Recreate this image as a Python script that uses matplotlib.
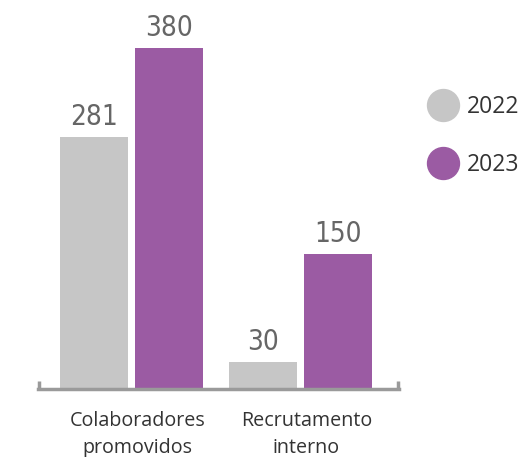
import matplotlib.pyplot as plt
import matplotlib.transforms as mtransforms
from matplotlib.lines import Line2D
import numpy as np

# ====================================================================
# data
# ====================================================================
categories = ['Colaboradores\npromovidos', 'Recrutamento\ninterno']
years = ['2022', '2023']
values_2022 = [281, 30]
values_2023 = [380, 150]

colors = ['#c6c6c6', '#9b5ba3']

# ====================================================================
# plot
# ====================================================================
fig = plt.figure(figsize=(5.28, 4.57), dpi=100)
ax = fig.add_axes([0.072, 0.1488, 0.6837, 0.785])

x = np.arange(len(categories))
w = 0.402
off = 0.222

bars1 = ax.bar(x - off, values_2022, w, color=colors[0])
bars2 = ax.bar(x + off, values_2023, w, color=colors[1])

num_font = dict(family='DejaVu Sans', stretch='condensed', fontsize=20, color='#666666')
for bars in (bars1, bars2):
    for b in bars:
        ax.text(b.get_x() + b.get_width() / 2, b.get_height() + 7, str(int(b.get_height())),
                ha='center', va='bottom', **num_font)

ax.set_xlim(-0.553, 1.583)
ax.set_ylim(0, 400)

for s in ['top', 'right', 'left']:
    ax.spines[s].set_visible(False)
ax.spines['bottom'].set_color('#9a9a9a')
ax.spines['bottom'].set_linewidth(2.5)
# small upturned ends of the base line
for xe in (0.002, 0.998):
    ax.plot([xe, xe], [0, 0.022], transform=ax.transAxes, color='#9a9a9a', lw=2.5,
            clip_on=False, solid_capstyle='butt')

ax.set_yticks([])
ax.set_xticks(x)
ax.set_xticklabels(categories, fontsize=14.2, color='#333333', family='Open Sans', linespacing=1.45)
ax.tick_params(axis='x', length=0, pad=16)
shift = mtransforms.ScaledTranslation(6 / 100, 0, fig.dpi_scale_trans)
for lbl in ax.get_xticklabels():
    lbl.set_transform(lbl.get_transform() + shift)

handles = [Line2D([], [], marker='o', linestyle='', markersize=23, markerfacecolor=c, markeredgecolor=c)
           for c in colors]
fig.legend(handles, years, loc='upper left', bbox_to_anchor=(0.77, 0.838), frameon=False,
           labelcolor='#333333', handletextpad=0.35, labelspacing=1.5,
           handlelength=1.4, prop={'family': 'Open Sans', 'size': 16.5})

plt.savefig('out.png', dpi=100)
plt.close()
